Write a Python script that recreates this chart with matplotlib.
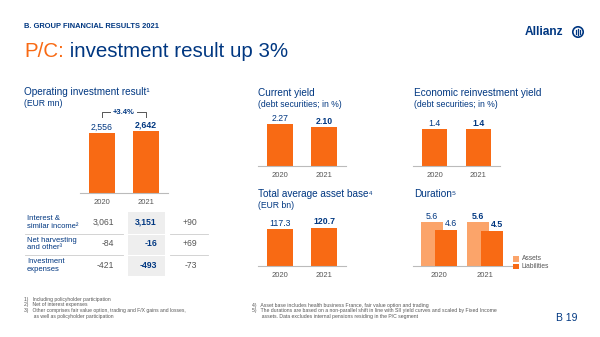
import matplotlib
matplotlib.use("Agg")
import matplotlib.pyplot as plt
from matplotlib.patches import Rectangle, Circle

plt.rcParams["font.family"] = ["Liberation Sans", "DejaVu Sans"]

W, H = 600, 337

NAVY = "#003781"
ORANGE = "#F86A14"
ORANGE_LIGHT = "#FBA46A"
GREY = "#555555"
AXIS = "#BBBBBB"

years = ["2020", "2021"]

# operating investment result (EUR mn)
op_result = [2556, 2642]
op_labels = ["2,556", "2,642"]
op_growth = "+3.4%"

# table below
row_labels = ["Interest &\nsimilar income²", "Net harvesting\nand other³", "Investment\nexpenses"]
tab_2020 = [3061, -84, -421]
tab_2021 = [3151, -16, -493]
tab_delta = [90, 69, -73]

current_yield = [2.27, 2.10]
current_labels = ["2.27", "2.10"]

reinvest_yield = [1.4, 1.4]
reinvest_labels = ["1.4", "1.4"]

asset_base = [117.3, 120.7]
asset_labels = ["117.3", "120.7"]

dur_assets = [5.6, 5.6]
dur_liabs = [4.6, 4.5]

notes_left = [
    "1)   Including policyholder participation",
    "2)   Net of interest expenses",
    "3)   Other comprises fair value option, trading and F/X gains and losses,",
    "       as well as policyholder participation",
]
notes_right = [
    "4)   Asset base includes health business France, fair value option and trading",
    "5)   The durations are based on a non-parallel shift in line with SII yield curves and scaled by Fixed Income",
    "       assets. Data excludes internal pensions residing in the P/C segment",
]


def px_axes(fig, x0, x1, ytop, ybot):
    ax = fig.add_axes([x0 / W, 1 - ybot / H, (x1 - x0) / W, (ybot - ytop) / H])
    ax.set_facecolor("none")
    for s in ("top", "right", "left"):
        ax.spines[s].set_visible(False)
    ax.spines["bottom"].set_color(AXIS)
    ax.spines["bottom"].set_linewidth(0.8)
    ax.set_yticks([])
    ax.tick_params(axis="x", length=0, pad=4, labelsize=5.5, labelcolor=GREY)
    return ax


def bar_panel(fig, box, values, labels, ymax, width=0.6):
    ax = px_axes(fig, *box)
    x = range(len(values))
    ax.bar(x, values, width=width, color=ORANGE)
    ax.set_xlim(-0.5, 1.5)
    ax.set_ylim(0, ymax)
    ax.set_xticks(list(x), years)
    for i, (v, lab) in enumerate(zip(values, labels)):
        ax.annotate(lab, (i, v), xytext=(0, 1), textcoords="offset points",
                    ha="center", va="bottom", fontsize=6.3, color=NAVY,
                    fontweight="bold" if i == 1 else "normal")
    return ax


fig = plt.figure(figsize=(6, 3.37), dpi=100)

# overlay in pixel coordinates for text and decorations
ov = fig.add_axes([0, 0, 1, 1])
ov.set_xlim(0, W)
ov.set_ylim(H, 0)
ov.axis("off")

ov.text(24, 27, "B. GROUP FINANCIAL RESULTS 2021", fontsize=5.4, fontweight="bold",
        color=NAVY, va="center")
t1 = ov.text(24, 57, "P/C:", fontsize=14.8, color=ORANGE, va="baseline")
ov.annotate(" investment result up 3%", xy=(1, 0), xycoords=t1, fontsize=14.8,
            color=NAVY, va="bottom")

# logo
ov.text(525, 32, "Allianz", fontsize=8.6, fontweight="bold", color=NAVY, va="center")
ov.add_patch(Circle((578, 32), 5.2, fill=False, edgecolor=NAVY, lw=1.2))
for dx, h in ((-2.0, 2.3), (0, 3.3), (2.0, 2.3)):
    ov.plot([578 + dx, 578 + dx], [32 - h, 32 + h], color=NAVY, lw=0.9)

# panel titles
ov.text(24, 92, "Operating investment result¹", fontsize=7.2, color=NAVY, va="center")
ov.text(24, 104, "(EUR mn)", fontsize=6.2, color=NAVY, va="center")
ov.text(258, 93, "Current yield", fontsize=7.2, color=NAVY, va="center")
ov.text(258, 104.5, "(debt securities; in %)", fontsize=6.2, color=NAVY, va="center")
ov.text(414, 93, "Economic reinvestment yield", fontsize=7.2, color=NAVY, va="center")
ov.text(414, 104.5, "(debt securities; in %)", fontsize=6.2, color=NAVY, va="center")
ov.text(258, 194, "Total average asset base⁴", fontsize=7.2, color=NAVY, va="center")
ov.text(258, 206, "(EUR bn)", fontsize=6.2, color=NAVY, va="center")
ov.text(414, 194, "Duration⁵", fontsize=7.2, color=NAVY, va="center")

# growth bracket
ov.plot([102, 102, 146, 146], [116.5, 112, 112, 116.5], color=GREY, lw=0.7)
ov.text(124, 112, op_growth, fontsize=5.5, fontweight="bold", color=NAVY,
        ha="center", va="center",
        bbox=dict(facecolor="white", edgecolor="none", pad=1.2))

# table
ov.add_patch(Rectangle((128, 212), 37, 64, facecolor="#EEEEEE", edgecolor="none"))
row_y = [222.5, 244, 265.5]
for y, lab, a, b, d in zip(row_y, row_labels, tab_2020, tab_2021, tab_delta):
    ov.text(27, y, lab, fontsize=5.5, color=NAVY, va="center", linespacing=1.15)
    ov.text(114, y, f"{a:,}", fontsize=6.2, color=GREY, ha="right", va="center")
    ov.text(157, y, f"{b:,}", fontsize=6.2, color=NAVY, ha="right", va="center",
            fontweight="bold")
    ov.text(197, y, f"{d:+d}", fontsize=6.2, color=GREY, ha="right", va="center")
for y in (233.5, 254.5):
    ov.plot([25, 123], [y, y], color="#CCCCCC", lw=0.6)
    ov.plot([128, 165], [y, y], color="white", lw=0.8)
    ov.plot([170, 208], [y, y], color="#CCCCCC", lw=0.6)

# legend
ov.add_patch(Rectangle((513, 256), 5.5, 5.5, facecolor=ORANGE_LIGHT, edgecolor="none"))
ov.add_patch(Rectangle((513, 263.5), 5.5, 5.5, facecolor=ORANGE, edgecolor="none"))
ov.text(522, 259, "Assets", fontsize=4.8, color=GREY, va="center")
ov.text(522, 266.5, "Liabilities", fontsize=4.8, color=GREY, va="center")

# footnotes
for i, line in enumerate(notes_left):
    ov.text(24, 299 + i * 5.7, line, fontsize=3.6, color=GREY, va="center")
for i, line in enumerate(notes_right):
    ov.text(252, 305 + i * 5.7, line, fontsize=3.7, color=GREY, va="center")
ov.text(556, 318, "B 19", fontsize=7.5, color=NAVY, va="center")

# bar panels
bar_panel(fig, (80, 168, 113, 193), op_result, op_labels, 3400, width=0.61)
bar_panel(fig, (258, 346, 118, 166), current_yield, current_labels, 2.6, width=0.59)
bar_panel(fig, (413, 500, 118, 166), reinvest_yield, reinvest_labels, 1.82, width=0.57)
bar_panel(fig, (258, 346, 218, 266), asset_base, asset_labels, 152, width=0.59)

# duration: overlapping assets / liabilities bars
axd = px_axes(fig, 413, 512, 218, 266)
xs = range(len(years))
off = 0.152
bw = 0.48
axd.bar([x - off for x in xs], dur_assets, width=bw, color=ORANGE_LIGHT, zorder=2)
axd.bar([x + off for x in xs], dur_liabs, width=bw, color=ORANGE, zorder=3)
axd.set_xlim(-0.565, 1.587)
axd.set_ylim(0, 6.1)
axd.set_xticks(list(xs), years)
for i in xs:
    wt = "bold" if i == 1 else "normal"
    axd.annotate(f"{dur_assets[i]:.1f}", (i - off, dur_assets[i]), xytext=(0, 1),
                 textcoords="offset points", ha="center", va="bottom",
                 fontsize=6.3, color=NAVY, fontweight=wt, zorder=4)
    axd.annotate(f"{dur_liabs[i]:.1f}", (i + off + 0.1, dur_liabs[i]), xytext=(0, 1),
                 textcoords="offset points", ha="center", va="bottom",
                 fontsize=6.3, color=NAVY, fontweight=wt, zorder=4)

fig.savefig("out.png", dpi=100)
